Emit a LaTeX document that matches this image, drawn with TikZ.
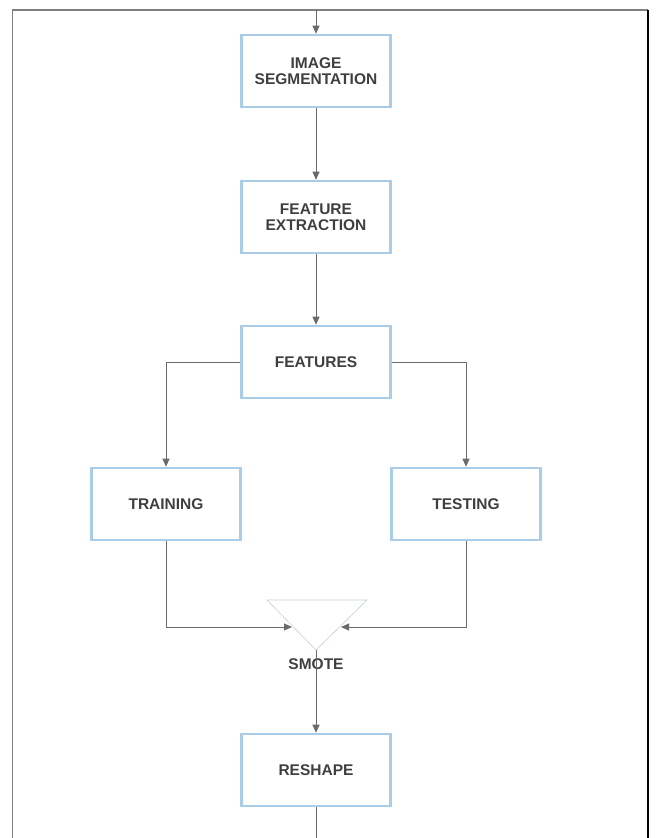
\documentclass[tikz,border=0pt]{standalone}
\usepackage{fontspec}
\setmainfont{Liberation Sans}
\usepackage{xcolor}
\usetikzlibrary{positioning, arrows.meta}
\definecolor{boxblue}{HTML}{A9CDE6}
\definecolor{linegray}{HTML}{6A6A6A}
\definecolor{txtgray}{HTML}{3F3F3F}
\begin{document}
\begin{tikzpicture}[
  x=1pt, y=-1pt,
  font=\fontsize{15.5}{16.5}\selectfont\bfseries,
  stage/.style={draw=boxblue, line width=2.6pt, minimum width=149pt,
                minimum height=72pt, align=center, text=txtgray,
                inner sep=2pt},
  arr/.style={-{Triangle[length=8pt,width=7pt]}, draw=linegray,
              line width=1pt},
  link/.style={draw=linegray, line width=1pt}
]
\useasboundingbox (0,0) rectangle (656,838);
% outer frame, open at the bottom
\draw[gray, line width=1.5pt] (12.5,838) -- (12.5,10) -- (648,10);
\draw[black, line width=1.2pt] (648,10) -- (648,838);

\coordinate (in) at (316,10);
\node[stage] (seg) at (316,71) {IMAGE\\SEGMENTATION};
\node[stage] (feat) at (316,217) {FEATURE\\EXTRACTION};
\node[stage] (feats) at (316,362) {FEATURES};
\node[stage] (train) at (166,504) {TRAINING};
\node[stage] (test) at (466,504) {TESTING};

% smote triangle
\coordinate (smoteL) at (267,600);
\coordinate (smoteR) at (367,600);
\coordinate (smoteA) at (316,650);
\coordinate (smoteInL) at (292,627);
\coordinate (smoteInR) at (341,627);
\draw[boxblue!60!gray!60, line width=0.6pt] (smoteL) -- (smoteR) -- (smoteA) -- cycle;
\node[text=txtgray] (smote) at (316,664) {SMOTE};

\node[stage] (reshape) at (316,770) {RESHAPE};
\coordinate (out) at (316,838);

\draw[arr] (in) -- (seg);
\draw[arr] (seg) -- (feat);
\draw[arr] (feat) -- (feats);
\draw[arr] (feats.west) -| (train);
\draw[arr] (feats.east) -| (test);
\draw[arr] (train.south) |- (smoteInL);
\draw[arr] (test.south) |- (smoteInR);
\draw[arr] (smoteA) -- (reshape);
\draw[link] (reshape) -- (out);
\end{tikzpicture}
\end{document}
